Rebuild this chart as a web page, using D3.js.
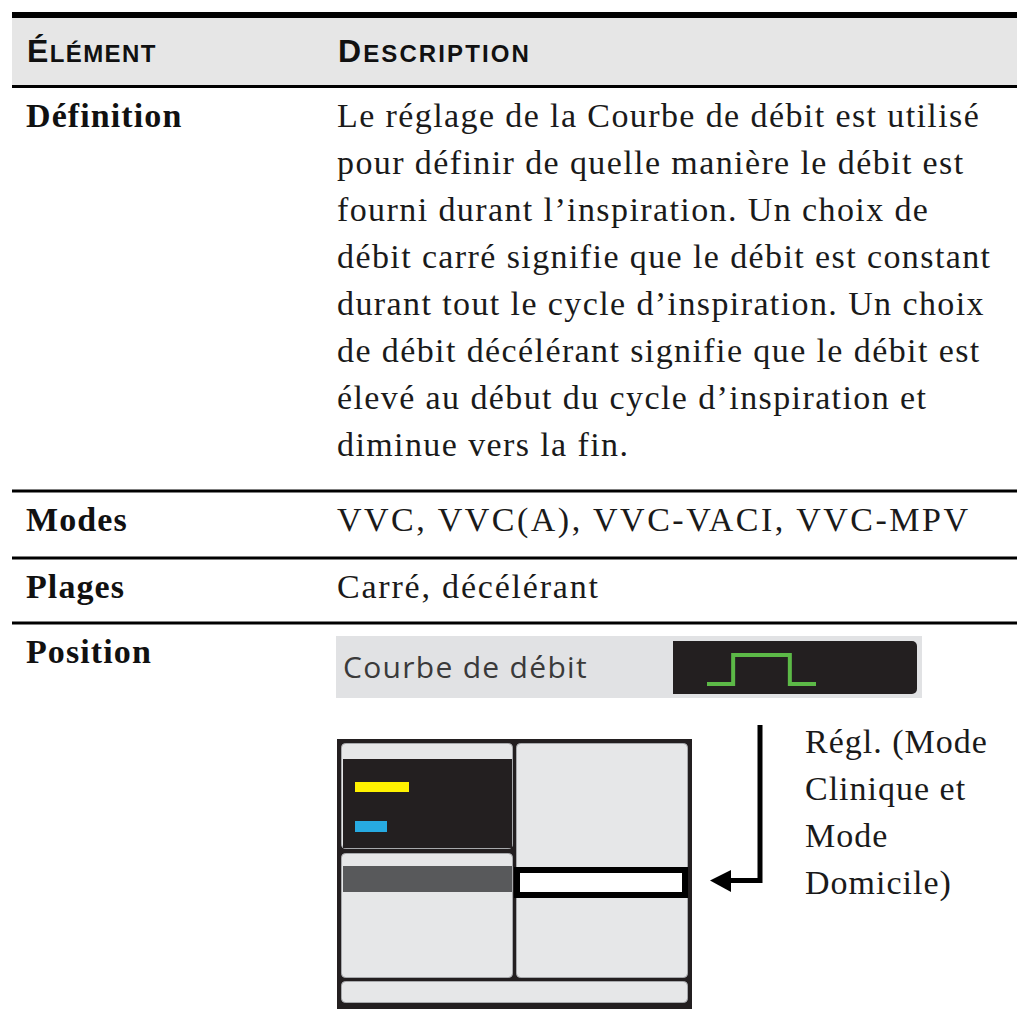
<!DOCTYPE html>
<html lang="fr">
<head>
<meta charset="utf-8">
<script src="https://cdn.jsdelivr.net/npm/d3@7"></script>
<style>
  html, body { margin: 0; padding: 0; background: #ffffff; }
  svg { display: block; }
</style>
</head>
<body>
<div id="chart"></div>
<script>
// ---------- Content (data) ----------
const columnHeaders = [
  { big: "É", small: "LÉMENT" },
  { big: "D", small: "ESCRIPTION" }
];
const rowLabels = ["Définition", "Modes", "Plages", "Position"];
const definitionLines = [
  "Le réglage de la Courbe de débit est utilisé",
  "pour définir de quelle manière le débit est",
  "fourni durant l’inspiration. Un choix de",
  "débit carré signifie que le débit est constant",
  "durant tout le cycle d’inspiration. Un choix",
  "de débit décélérant signifie que le débit est",
  "élevé au début du cycle d’inspiration et",
  "diminue vers la fin."
];
const modesText = "VVC, VVC(A), VVC-VACI, VVC-MPV";
const rangesText = "Carré, décélérant";
const widgetLabel = "Courbe de débit";
const calloutLines = ["Régl. (Mode", "Clinique et", "Mode", "Domicile)"];
// square flow waveform: time fraction vs level (0 = low, 1 = high)
const flowWaveT = [0, 0.24, 0.24, 0.76, 0.76, 1];
const flowWaveV = [0, 0, 1, 1, 0, 0];

// ---------- Layout ----------
const W = 1017, H = 1014;
const tableLeft = 12, tableRight = 1017;
const col1X = 26, col2X = 337;
const serif = "'Liberation Serif', 'Times New Roman', serif";
const sans = "'Liberation Sans', Arial, sans-serif";

const svg = d3.select("#chart").append("svg")
  .attr("width", W).attr("height", H)
  .attr("viewBox", `0 0 ${W} ${H}`);

// Header band
svg.append("rect").attr("x", tableLeft).attr("y", 17)
  .attr("width", tableRight - tableLeft).attr("height", 69).attr("fill", "#e6e6e6");
svg.append("rect").attr("x", tableLeft).attr("y", 12)
  .attr("width", tableRight - tableLeft).attr("height", 6).attr("fill", "#000");
svg.append("rect").attr("x", tableLeft).attr("y", 85)
  .attr("width", tableRight - tableLeft).attr("height", 3).attr("fill", "#000");

const headerX = [27, 338];
const headerSpacing = [1.4, 2.1];
columnHeaders.forEach((h, i) => {
  const t = svg.append("text")
    .attr("x", headerX[i]).attr("y", 62)
    .attr("font-family", sans).attr("font-weight", "bold")
    .attr("letter-spacing", headerSpacing[i]).attr("fill", "#111");
  t.append("tspan").attr("font-size", 32).text(h.big);
  t.append("tspan").attr("font-size", 24).text(h.small);
});

// Row separators
const separatorsY = [489.5, 556.5, 621.5];
svg.selectAll("rect.sep").data(separatorsY).join("rect")
  .attr("class", "sep")
  .attr("x", tableLeft).attr("y", d => d)
  .attr("width", tableRight - tableLeft).attr("height", 3).attr("fill", "#000");

// Row labels (bold serif)
const labelBaselines = [127, 531, 598, 663];
svg.selectAll("text.rowlabel").data(rowLabels).join("text")
  .attr("class", "rowlabel")
  .attr("x", col1X).attr("y", (d, i) => labelBaselines[i])
  .attr("font-family", serif).attr("font-weight", "bold")
  .attr("font-size", 34).attr("letter-spacing", 1.1)
  .attr("fill", "#111").text(d => d);

// Definition lines
const lineY = d3.scaleLinear().domain([0, 1]).range([127, 174]);
const bodyStyle = sel => sel
  .attr("font-family", serif).attr("font-size", 34)
  .attr("letter-spacing", 1.4).attr("fill", "#1a1a1a");

svg.selectAll("text.defline").data(definitionLines).join("text")
  .attr("class", "defline")
  .attr("x", col2X).attr("y", (d, i) => lineY(i))
  .call(bodyStyle).text(d => d);

svg.append("text").attr("x", col2X).attr("y", 531).call(bodyStyle)
  .attr("letter-spacing", 2.5).text(modesText);
svg.append("text").attr("x", col2X).attr("y", 598).call(bodyStyle)
  .attr("letter-spacing", 1.8).text(rangesText);

// ---------- Position: widget ----------
svg.append("rect").attr("x", 336).attr("y", 636).attr("width", 586).attr("height", 62)
  .attr("fill", "#e1e2e4");
svg.append("rect").attr("x", 673).attr("y", 641).attr("width", 244).attr("height", 53)
  .attr("rx", 5).attr("fill", "#231f20");
svg.append("rect").attr("x", 673).attr("y", 641).attr("width", 20).attr("height", 53)
  .attr("fill", "#231f20");
svg.append("text").attr("x", 343).attr("y", 678)
  .attr("font-family", "'Open Sans', 'Noto Sans', sans-serif")
  .attr("font-size", 30).attr("letter-spacing", 1.3)
  .attr("fill", "#3a3a3a").text(widgetLabel);

const wx = d3.scaleLinear().domain([0, 1]).range([707, 816]);
const wy = d3.scaleLinear().domain([0, 1]).range([684, 655]);
const wave = flowWaveT.map((t, i) => [t, flowWaveV[i]]);
svg.append("path")
  .attr("d", d3.line().x(d => wx(d[0])).y(d => wy(d[1]))(wave))
  .attr("fill", "none").attr("stroke", "#5cb947").attr("stroke-width", 4)
  .attr("stroke-linejoin", "miter");

// ---------- Position: screen schematic ----------
const g = svg.append("g");
g.append("rect").attr("x", 337).attr("y", 739).attr("width", 355).attr("height", 270)
  .attr("fill", "#231f20");
const panels = [
  { x: 341, y: 743, w: 172, h: 106 },
  { x: 341, y: 853, w: 172, h: 125 },
  { x: 516, y: 743, w: 172, h: 235 },
  { x: 341, y: 981, w: 347, h: 22 }
];
g.selectAll("rect.panel").data(panels).join("rect")
  .attr("class", "panel")
  .attr("x", d => d.x + 0.5).attr("y", d => d.y + 0.5)
  .attr("width", d => d.w - 1).attr("height", d => d.h - 1)
  .attr("rx", 4).attr("fill", "#e6e7e8").attr("stroke", "#a7a9ac").attr("stroke-width", 1);

// dark waveform area in top-left panel
g.append("rect").attr("x", 343).attr("y", 759).attr("width", 169).attr("height", 89)
  .attr("fill", "#231f20");
g.append("rect").attr("x", 355).attr("y", 782).attr("width", 54).attr("height", 10)
  .attr("fill", "#fff200");
g.append("rect").attr("x", 355).attr("y", 821).attr("width", 32).attr("height", 11)
  .attr("fill", "#27aae1");
// selected row in bottom-left panel
g.append("rect").attr("x", 343).attr("y", 866).attr("width", 169).attr("height", 26)
  .attr("fill", "#58595b");
// highlighted setting in right panel
g.append("rect").attr("x", 517).attr("y", 870).attr("width", 168).attr("height", 25)
  .attr("fill", "#fff").attr("stroke", "#000").attr("stroke-width", 6);

// callout arrow
svg.append("path")
  .attr("d", "M760,725 L760,880.5 L727,880.5")
  .attr("fill", "none").attr("stroke", "#000").attr("stroke-width", 5)
  .attr("stroke-linejoin", "miter");
svg.append("path")
  .attr("d", "M710,880.5 L731,870 L731,892 Z").attr("fill", "#000");

// callout text
const calloutY = d3.scaleLinear().domain([0, 1]).range([753, 800]);
svg.selectAll("text.callout").data(calloutLines).join("text")
  .attr("class", "callout")
  .attr("x", 805).attr("y", (d, i) => calloutY(i))
  .call(bodyStyle).attr("letter-spacing", 1.0).text(d => d);
</script>
</body>
</html>
